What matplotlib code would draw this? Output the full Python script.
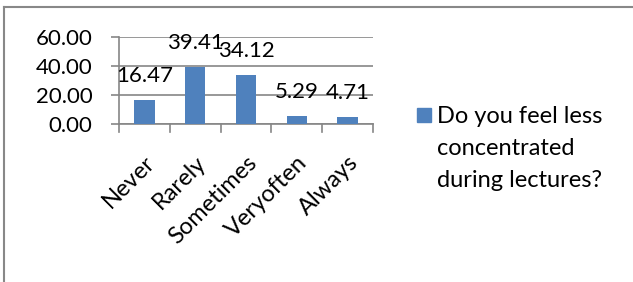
import matplotlib
matplotlib.use("Agg")
import matplotlib.pyplot as plt
from matplotlib.lines import Line2D
from matplotlib.patches import Rectangle

# Survey answers (percent of respondents)
categories = ["Never", "Rarely", "Sometimes", "Veryoften", "Always"]
percentages = [16.47, 39.41, 34.12, 5.29, 4.71]
series_lines = ["Do you feel less", "concentrated", "during lectures?"]
y_ticks = [0, 20, 40, 60]

BAR_COLOR = "#4F81BD"
GRID_COLOR = "#868686"

plt.rcParams["font.family"] = ["Lato", "DejaVu Sans"]

fig = plt.figure(figsize=(6.33, 2.82), dpi=100)
W, H = 633, 282

ax = fig.add_axes([119 / W, 1 - 124 / H, (373 - 119) / W, (124 - 37) / H])

x = range(len(categories))
bars = ax.bar(x, percentages, width=0.4, color=BAR_COLOR, zorder=3)

ax.set_xlim(-0.5, len(categories) - 0.5)
ax.set_ylim(0, 60)
ax.set_yticks(y_ticks)
ax.set_yticklabels([f"{v:.2f}" for v in y_ticks], fontsize=16)
ax.yaxis.grid(True, color=GRID_COLOR, linewidth=1.2, zorder=0)

# category labels, rotated like the original
ax.set_xticks(list(x))
ax.set_xticklabels(categories, rotation=45, ha="right", rotation_mode="anchor", fontsize=17)
ax.tick_params(axis="x", length=0, pad=20)
ax.tick_params(axis="y", length=6, color=GRID_COLOR, width=1.2, pad=13)

# tick marks between the categories on the x axis
for b in [i - 0.5 for i in range(len(categories) + 1)]:
    ax.plot([b, b], [0, -0.09], transform=ax.get_xaxis_transform(), color=GRID_COLOR,
            linewidth=1.2, clip_on=False)

for side in ["top", "right"]:
    ax.spines[side].set_visible(False)
ax.spines["left"].set_color(GRID_COLOR)
ax.spines["bottom"].set_color(GRID_COLOR)
ax.spines["left"].set_linewidth(1.2)
ax.spines["bottom"].set_linewidth(1.2)

# value labels above the bars
for rect, val in zip(bars, percentages):
    ax.annotate(f"{val:.2f}", (rect.get_x() + rect.get_width() / 2, val),
                xytext=(0, 10), textcoords="offset points", ha="center", va="bottom",
                fontsize=16, zorder=4)

# legend drawn by hand so the marker sits on the first line, as in Excel
fig.add_artist(Rectangle((417 / W, 1 - 122 / H), 14 / W, 14 / H, color=BAR_COLOR,
                         transform=fig.transFigure))
for i, line in enumerate(series_lines):
    fig.text(437 / W, 1 - (123 + 32 * i) / H, line, fontsize=17, va="baseline", ha="left")

# chart area border (top and left visible in the crop)
fig.add_artist(Line2D([4 / W, 1], [1 - 7 / H, 1 - 7 / H], color="#888888", linewidth=1.5))
fig.add_artist(Line2D([4 / W, 4 / W], [0, 1 - 7 / H], color="#888888", linewidth=1.5))

fig.savefig("out.png", dpi=100)
